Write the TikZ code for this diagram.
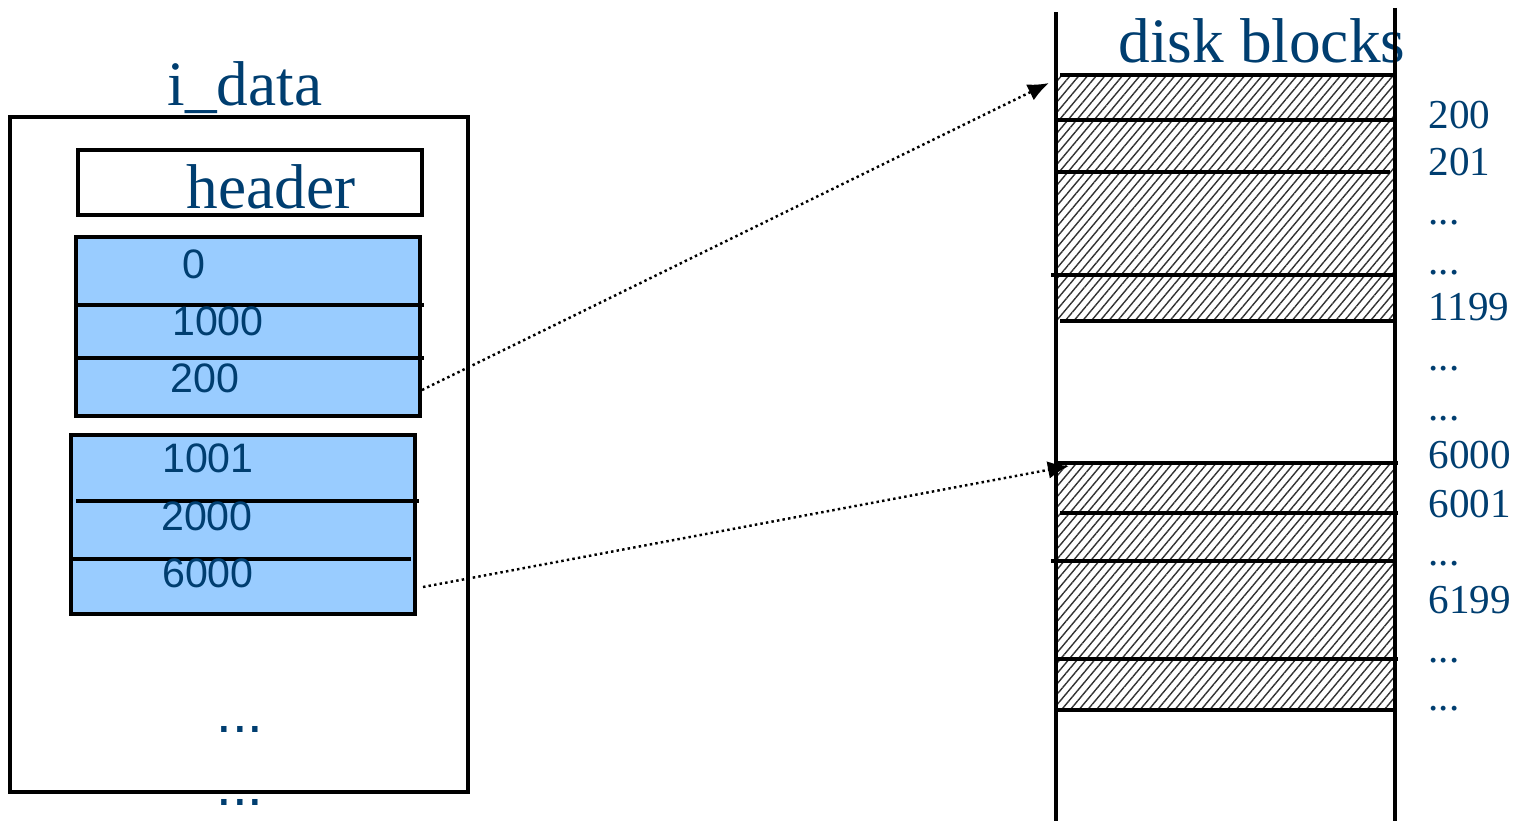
\documentclass[tikz,border=0pt]{standalone}
\usepackage{fontspec}
\setmainfont{Liberation Serif}
\setsansfont{Liberation Sans}
\usetikzlibrary{arrows.meta,patterns.meta}
\definecolor{inkblue}{RGB}{0,62,112}
\definecolor{slotblue}{RGB}{153,204,255}
\newcommand{\gapdots}{...}

\begin{document}
\begin{tikzpicture}[
    x=0.01cm, y=-0.01cm,
    frame/.style={draw, line width=0.9pt},
    slot/.style={draw, line width=0.9pt, fill=slotblue},
    sep/.style={line width=0.9pt},
    hatch/.style={pattern={Lines[angle=50,distance=1.9pt,line width=0.4pt]}, pattern color=black!80},
    title/.style={font=\fontsize{18}{20}\selectfont, text=inkblue, inner sep=0pt, anchor=base},
    num/.style={font=\sffamily\fontsize{11.7}{13}\selectfont, text=inkblue, inner sep=0pt, anchor=base},
    blk/.style={font=\fontsize{11.7}{13}\selectfont, text=inkblue, inner sep=0pt, anchor=base west},
    more/.style={font=\sffamily\fontsize{16}{18}\selectfont, text=inkblue, inner sep=0pt, anchor=base},
    ptr/.style={-{Latex[length=6pt,width=5pt]}, dash pattern=on 0.7pt off 0.9pt, line width=0.7pt}
  ]
    \useasboundingbox (0,0) rectangle (1529,821);

    % i_data side
    \node[title] (idata) at (245,105) {i\_data};
    \draw[frame] (10,117) rectangle (468,792);
    \draw[frame] (78,150) rectangle (422,215);
    \node[title] (hdr) at (271,208) {header};

    \draw[slot] (76,237) rectangle (420,416);
    \draw[sep] (76,305) -- (424,305);
    \draw[sep] (76,358) -- (424,358);
    \draw[slot] (71,435) rectangle (415,614);
    \draw[sep] (76,501) -- (419,501);
    \draw[sep] (71,559) -- (411,559);

    \foreach \t/\x/\y in {0/194/278, 1000/218/335, 200/205/392,
                          1001/208/472, 2000/207/530, 6000/208/587}
      \node[num] (slot\t) at (\x,\y) {\t};

    \node[more] (moreA) at (240,732) {\gapdots};
    \node[more] (moreB) at (240,805) {\gapdots};

    % disk blocks side
    \node[title] (disk) at (1262,62) {disk blocks};
    \fill[hatch] (1057,75) rectangle (1395,321);
    \fill[hatch] (1057,463) rectangle (1395,710);
    \draw[line width=0.9pt] (1056,12) -- (1056,821);
    \draw[line width=0.9pt] (1395,8) -- (1395,821);

    \draw[sep] (1060,75) -- (1395,75);
    \draw[sep] (1056,120) -- (1395,120);
    \draw[sep] (1056,172) -- (1390,172);
    \draw[sep] (1051,275) -- (1395,275);
    \draw[sep] (1060,321) -- (1395,321);
    \draw[sep] (1056,463) -- (1398,463);
    \draw[sep] (1060,513) -- (1398,513);
    \draw[sep] (1051,561) -- (1395,561);
    \draw[sep] (1056,659) -- (1398,659);
    \draw[sep] (1056,710) -- (1395,710);

    \foreach \t/\y [count=\i] in {200/128, 201/175, \gapdots/224, \gapdots/274, 1199/320,
                                 \gapdots/370, \gapdots/420, 6000/468, 6001/517,
                                 \gapdots/565, 6199/613, \gapdots/662, \gapdots/710}
      \node[blk] (lbl\i) at (1428,\y) {\t};

    % pointers
    \coordinate (from200) at (422,390);
    \coordinate (to200) at (1049,83);
    \coordinate (from6000) at (423,587);
    \coordinate (to6000) at (1069,466);
    \draw[ptr] (from200) -- (to200);
    \draw[ptr] (from6000) -- (to6000);
  \end{tikzpicture}
\end{document}
